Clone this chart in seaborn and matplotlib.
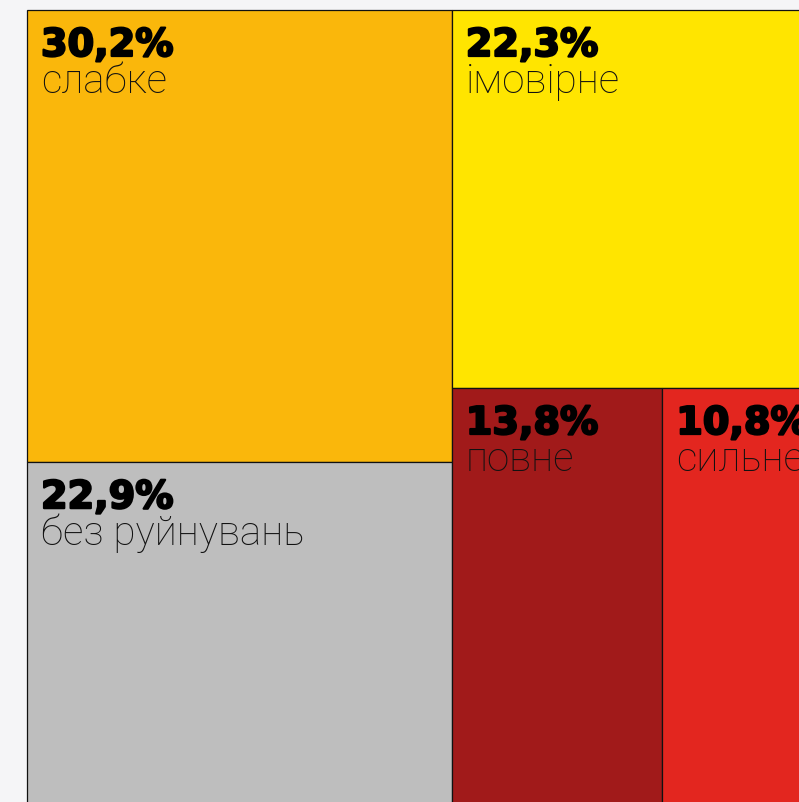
import matplotlib
matplotlib.use("Agg")
import matplotlib.pyplot as plt
from matplotlib.patches import Rectangle
import matplotlib.patheffects as pe
import seaborn as sns

# Damage categories and their shares (%)
labels = ["слабке", "без руйнувань", "імовірне", "повне", "сильне"]
shares = [30.2, 22.9, 22.3, 13.8, 10.8]
value_text = ["30,2%", "22,9%", "22,3%", "13,8%", "10,8%"]
colors = ["#FAB70B", "#BEBEBE", "#FFE500", "#A11A1A", "#E3261F"]

# Split tree: 'h' = side by side, 'v' = stacked; leaves are category indices
layout_tree = ("h", [("v", [0, 1]), ("v", [2, ("h", [3, 4])])])

sns.set_theme(style="white")
plt.rcParams["font.family"] = ["Roboto", "DejaVu Sans"]

W_PX, H_PX = 799, 802
fig = plt.figure(figsize=(W_PX / 100, H_PX / 100), dpi=100)
fig.patch.set_facecolor("#F5F5F7")

# The treemap block runs past the right and bottom edges of the canvas
left_px, top_px, map_w, map_h = 27, 10, 800, 795
ax = fig.add_axes([left_px / W_PX, (H_PX - top_px - map_h) / H_PX,
                   map_w / W_PX, map_h / H_PX])
ax.set_xlim(0, 1)
ax.set_ylim(1, 0)
ax.axis("off")


def total(node):
    if isinstance(node, int):
        return shares[node]
    return sum(total(c) for c in node[1])


def place(node, x, y, w, h, out):
    if isinstance(node, int):
        out[node] = (x, y, w, h)
        return
    direction, children = node
    s = total(node)
    pos = 0.0
    for c in children:
        frac = total(c) / s
        if direction == "h":
            place(c, x + pos * w, y, frac * w, h, out)
        else:
            place(c, x, y + pos * h, w, frac * h, out)
        pos += frac


rects = {}
place(layout_tree, 0, 0, 1, 1, rects)

heavy = [pe.withStroke(linewidth=1.6, foreground="#000000")]

for i, (x, y, w, h) in rects.items():
    ax.add_patch(Rectangle((x, y), w, h, facecolor=colors[i],
                           edgecolor="#111111", linewidth=0.9, clip_on=False,
                           zorder=0))
    ax.annotate(value_text[i], (x, y), xytext=(14, -46),
                textcoords="offset pixels", ha="left", va="baseline",
                fontsize=27.5, fontweight="heavy", color="#000000",
                family=["DejaVu Sans"], path_effects=heavy,
                annotation_clip=False)
    ax.annotate(labels[i], (x, y), xytext=(14, -83),
                textcoords="offset pixels", ha="left", va="baseline",
                fontsize=29, fontweight="light", color="#111111",
                annotation_clip=False)

fig.savefig("out.png", dpi=100, facecolor=fig.get_facecolor())
